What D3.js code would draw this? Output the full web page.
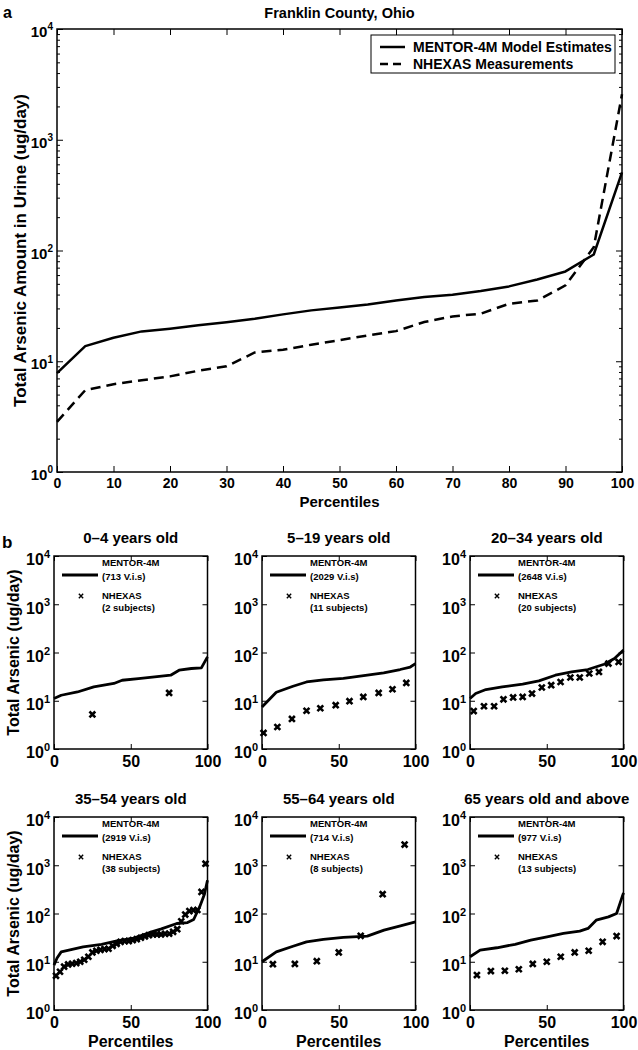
<!DOCTYPE html>
<html><head><meta charset="utf-8">
<script src="https://cdn.jsdelivr.net/npm/d3@7"></script>
<style>
body{margin:0;background:#fff;}
svg{display:block;font-family:"Liberation Sans",Arial,Helvetica,sans-serif;font-weight:bold;}
</style></head>
<body><svg id="c" width="638" height="1050"></svg>
<script>
// ---------- DATA ----------
const topTitle = "Franklin County, Ohio";
const topPct = [0,5,10,15,20,25,30,35,40,45,50,55,60,65,70,75,80,85,90,95,100];
const topMentor = [7.8,13.7,16.3,18.6,19.7,21.1,22.5,24.2,26.5,28.8,30.5,32.6,35.4,38,39.8,43,47.4,54.8,64.7,92,507];
const topNhexas = [2.84,5.48,6.2,6.74,7.3,8.2,9.0,12,12.7,14.1,15.5,17.1,18.7,22.6,25.4,26.9,33,35.4,48.4,107,2570];
const topLegend = ["MENTOR-4M Model Estimates","NHEXAS Measurements"];
const xTicksTop = [0,10,20,30,40,50,60,70,80,90,100];
const yDecades = [1,10,100,1000,10000];
const xTicksPanel = [0,50,100];

const panelTitles = ["0\u20134 years old","5\u201319 years old","20\u201334 years old","35\u201354 years old","55\u201364 years old","65 years old and above"];
const panelVisits = ["(713 V.i.s)","(2029 V.i.s)","(2648 V.i.s)","(2919 V.i.s)","(714 V.i.s)","(977 V.i.s)"];
const panelSubjects = ["(2 subjects)","(11 subjects)","(20 subjects)","(38 subjects)","(8 subjects)","(13 subjects)"];

const m1Pct = [0,4.7,15.3,25.9,39,44.4,55,65.6,76,81.5,89.5,96,100];
const m1Val = [11.1,13,15.2,19.4,22.8,26.6,28.8,31.2,33.8,43,46.6,47.9,81];
const n1Pct = [25,75];
const n1Val = [5.2,14.5];

const m2Pct = [0,9.3,20.2,29,40,53,57.9,68.6,79.3,90,96.6,100];
const m2Val = [7.4,15,20,24.5,27,29,30.5,33.8,37.8,44.4,50,59];
const n2Pct = [1,10,19.5,29,38,48,57,66,76,85,94];
const n2Val = [2.15,2.86,4.2,6.2,7.0,8.1,9.8,12,14.5,17.3,23.4];

const m3Pct = [0,3.7,10.4,21,34.3,44.9,55.6,66.2,76.8,87.4,94.1,100];
const m3Val = [11.1,14.1,17.1,19.4,22,25.8,33.8,39.6,44.4,57,75,112];
const n3Pct = [2.4,9.1,15.7,21.8,28.1,34.3,40.4,46.8,52.9,59,65.4,71.5,77.7,84,90.2,96.8];
const n3Val = [6.1,7.7,7.7,10.7,11.7,12,14.1,18.8,21,24.5,30.3,30.3,36.7,39.6,59,63.8];

const m4Pct = [0,2,4.7,19,31,41,52,62,70,80,87,91,95,98,100];
const m4Val = [8.5,12,16,20.4,23,27,31,40,48,62,65,75,140,250,490];
const n4Pct = [1.3,3.9,6.6,9.2,11.8,14.5,17.1,19.7,22.4,25,27.6,30.3,32.9,35.5,38.2,40.8,43.4,46.1,48.7,51.3,53.9,56.6,59.2,61.8,64.5,67.1,69.7,72.4,75,77.6,80.3,82.9,85.5,88.2,90.8,93.4,96.1,98.7];
const n4Val = [5.1,6.2,7.9,8.8,9.1,9.4,10,11,12.7,15.6,16.9,17.7,18.3,18.6,21.4,23.5,25.9,26.8,26.8,28.1,29.4,31.4,33.4,35.6,36.8,36.8,36.8,38,38,41.7,47.4,69,95,112,117,118,280,1080];

const m5Pct = [0,9.3,20.2,29,40,53,68.6,79.5,90.2,100];
const m5Val = [10,16,21,25.9,29,32,34,45.2,55.6,67];
const n5Pct = [7.1,21.4,35.7,50,64.3,78.6,92.9];
const n5Val = [8.9,9.0,10.3,15.6,34.5,251,2680];

const m6Pct = [0,6.6,17.5,29.4,39.6,50.2,60.9,71.5,76.9,82.2,90.2,95.5,100];
const m6Val = [12.7,17.4,19.5,23,28,32.9,38.6,43,49,72.8,85,100,267];
const n6Pct = [4.5,13.6,22.7,31.8,40.9,50,59.1,68.2,77.3,86.4,95.5];
const n6Val = [5.3,6.4,6.5,7.0,9.0,10,12.7,15.6,16.9,25.9,34];

const panelMentor = [[m1Pct,m1Val],[m2Pct,m2Val],[m3Pct,m3Val],[m4Pct,m4Val],[m5Pct,m5Val],[m6Pct,m6Val]];
const panelNhexas = [[n1Pct,n1Val],[n2Pct,n2Val],[n3Pct,n3Val],[n4Pct,n4Val],[n5Pct,n5Val],[n6Pct,n6Val]];

// ---------- DRAW ----------
const svg = d3.select("#c");

function logAxisLabels(g, fs, efs){
  g.selectAll(".tick text").each(function(d){
    const t = d3.select(this);
    const e = Math.round(Math.log10(d));
    t.text(null);
    t.append("tspan").text("10");
    t.append("tspan").attr("dy", -fs*0.45).attr("font-size", efs).text(String(e));
  });
}
function styleAxis(g){
  g.select(".domain").remove();
  g.selectAll(".tick line").attr("stroke","#000").attr("stroke-width",1);
}

// ===== Top chart =====
const T = {l:57, r:622, t:29, b:472};
const xT = d3.scaleLinear().domain([0,100]).range([T.l,T.r]);
const yT = d3.scaleLog().domain([1,10000]).range([T.b,T.t]);
const minorVals = [];
yDecades.slice(0,4).forEach(d=>{ for(let k=2;k<=9;k++) minorVals.push(d*k); });

const gT = svg.append("g");
gT.append("g").attr("transform",`translate(0,${T.b})`)
  .call(d3.axisBottom(xT).tickValues(xTicksTop).tickSize(-6).tickPadding(6))
  .call(styleAxis)
  .call(g=>g.selectAll(".tick text").attr("font-size",14).attr("font-family","Liberation Sans, Arial").attr("font-weight","bold").attr("fill","#000"));
gT.append("g").attr("transform",`translate(0,${T.t})`)
  .call(d3.axisTop(xT).tickValues(xTicksTop).tickSize(-6).tickFormat(""))
  .call(styleAxis);
gT.append("g").attr("transform",`translate(${T.l},0)`)
  .call(d3.axisLeft(yT).tickValues(yDecades).tickSize(-6).tickPadding(4))
  .call(styleAxis)
  .call(g=>{g.selectAll(".tick text").attr("font-size",15).attr("font-family","Liberation Sans, Arial").attr("font-weight","bold").attr("fill","#000").attr("dy","0.5em"); logAxisLabels(g,15,10);});
gT.append("g").attr("transform",`translate(${T.l},0)`)
  .call(d3.axisLeft(yT).tickValues(minorVals).tickSize(-3).tickFormat(""))
  .call(styleAxis);
gT.append("g").attr("transform",`translate(${T.r},0)`)
  .call(d3.axisRight(yT).tickValues(yDecades).tickSize(-6).tickFormat(""))
  .call(styleAxis);
gT.append("g").attr("transform",`translate(${T.r},0)`)
  .call(d3.axisRight(yT).tickValues(minorVals).tickSize(-3).tickFormat(""))
  .call(styleAxis);

const lineT = d3.line().x((d,i)=>xT(topPct[i])).y(d=>yT(d));
gT.append("path").datum(topMentor).attr("d",lineT).attr("fill","none").attr("stroke","#000").attr("stroke-width",2.5).attr("stroke-linejoin","round");
gT.append("path").datum(topNhexas).attr("d",lineT).attr("fill","none").attr("stroke","#000").attr("stroke-width",2.5).attr("stroke-dasharray","10,6");

gT.append("rect").attr("x",T.l).attr("y",T.t).attr("width",T.r-T.l).attr("height",T.b-T.t)
  .attr("fill","none").attr("stroke","#000").attr("stroke-width",1.5);

// legend
const lg = gT.append("g");
lg.append("rect").attr("x",371).attr("y",35).attr("width",244).attr("height",38).attr("fill","#fff").attr("stroke","#000").attr("stroke-width",1);
lg.append("line").attr("x1",380).attr("x2",405).attr("y1",47).attr("y2",47).attr("stroke","#000").attr("stroke-width",2.5);
lg.append("line").attr("x1",380).attr("x2",405).attr("y1",64).attr("y2",64).attr("stroke","#000").attr("stroke-width",2.5).attr("stroke-dasharray","8,5");
lg.selectAll("text.lt").data(topLegend).enter().append("text")
  .attr("x",413).attr("y",(d,i)=>47+i*17).attr("dy","0.35em").attr("font-size",14).text(d=>d);

svg.append("text").attr("x",(T.l+T.r)/2).attr("y",13).attr("text-anchor","middle").attr("dy","0.35em").attr("font-size",14.5).text(topTitle);
svg.append("text").attr("x",3).attr("y",12).attr("dy","0.35em").attr("font-size",16).text("a");
svg.append("text").attr("x",(T.l+T.r)/2).attr("y",502).attr("text-anchor","middle").attr("dy","0.35em").attr("font-size",15).text("Percentiles");
svg.append("text").attr("transform",`translate(20,${(T.t+T.b)/2}) rotate(-90)`).attr("text-anchor","middle").attr("dy","0.35em").attr("font-size",17).text("Total Arsenic Amount in Urine (ug/day)");

// ===== Panels =====
const pLefts = [54,262,470];
const pW = 153.5;
const pTops = [556,817];
const pH = 193;
const sym = d3.symbol().type(d3.symbolX);

panelTitles.forEach((title,idx)=>{
  const col = idx%3, row = Math.floor(idx/3);
  const L = pLefts[col], R = L+pW, Tp = pTops[row], B = Tp+pH;
  const x = d3.scaleLinear().domain([0,100]).range([L,R]);
  const y = d3.scaleLog().domain([1,10000]).range([B,Tp]);
  const g = svg.append("g");
  g.append("g").attr("transform",`translate(0,${B})`)
    .call(d3.axisBottom(x).tickValues(xTicksPanel).tickSize(-5).tickPadding(7))
    .call(styleAxis)
    .call(a=>a.selectAll(".tick text").attr("font-size",16).attr("font-family","Liberation Sans, Arial").attr("font-weight","bold").attr("fill","#000"));
  g.append("g").attr("transform",`translate(0,${Tp})`)
    .call(d3.axisTop(x).tickValues(xTicksPanel).tickSize(-5).tickFormat("")).call(styleAxis);
  g.append("g").attr("transform",`translate(${L},0)`)
    .call(d3.axisLeft(y).tickValues(yDecades).tickSize(-5).tickPadding(4))
    .call(styleAxis)
    .call(a=>{a.selectAll(".tick text").attr("font-size",16).attr("font-family","Liberation Sans, Arial").attr("font-weight","bold").attr("fill","#000").attr("dy","0.55em"); logAxisLabels(a,16,11);});
  g.append("g").attr("transform",`translate(${R},0)`)
    .call(d3.axisRight(y).tickValues(yDecades).tickSize(-5).tickFormat("")).call(styleAxis);

  const [mp,mv] = panelMentor[idx];
  const line = d3.line().x((d,i)=>x(mp[i])).y(d=>y(d));
  g.append("path").datum(mv).attr("d",line).attr("fill","none").attr("stroke","#000").attr("stroke-width",2.8).attr("stroke-linejoin","round");
  const [np,nv] = panelNhexas[idx];
  g.selectAll("path.mk").data(nv).enter().append("path").attr("class","mk")
    .attr("transform",(d,i)=>`translate(${x(np[i])},${y(d)})`)
    .attr("d",sym.size(24)).attr("fill","none").attr("stroke","#000").attr("stroke-width",2.6);

  g.append("rect").attr("x",L).attr("y",Tp).attr("width",pW).attr("height",pH)
    .attr("fill","none").attr("stroke","#000").attr("stroke-width",1.5);

  // legend
  g.append("line").attr("x1",L+8).attr("x2",L+44).attr("y1",Tp+19).attr("y2",Tp+19).attr("stroke","#000").attr("stroke-width",2.8);
  g.append("path").attr("transform",`translate(${L+27},${Tp+40})`).attr("d",d3.symbol().type(d3.symbolX).size(14)()).attr("fill","none").attr("stroke","#000").attr("stroke-width",1.4);
  const lt = [["MENTOR-4M",7],[panelVisits[idx],21],["NHEXAS",40],[panelSubjects[idx],52]];
  g.selectAll("text.lg").data(lt).enter().append("text")
    .attr("x",L+48).attr("y",d=>Tp+d[1]).attr("dy","0.35em").attr("font-size",9.5).text(d=>d[0]);

  g.append("text").attr("x",(L+R)/2).attr("y",Tp-18).attr("text-anchor","middle").attr("dy","0.35em").attr("font-size",15).text(title);
  if(row===1) g.append("text").attr("x",(L+R)/2).attr("y",B+31).attr("text-anchor","middle").attr("dy","0.35em").attr("font-size",16).text("Percentiles");
});
svg.append("text").attr("x",2).attr("y",542).attr("dy","0.35em").attr("font-size",17).text("b");
pTops.forEach(t=>{
  svg.append("text").attr("transform",`translate(13,${t+pH/2}) rotate(-90)`).attr("text-anchor","middle").attr("dy","0.35em").attr("font-size",16).text("Total Arsenic (ug/day)");
});
</script></body></html>
